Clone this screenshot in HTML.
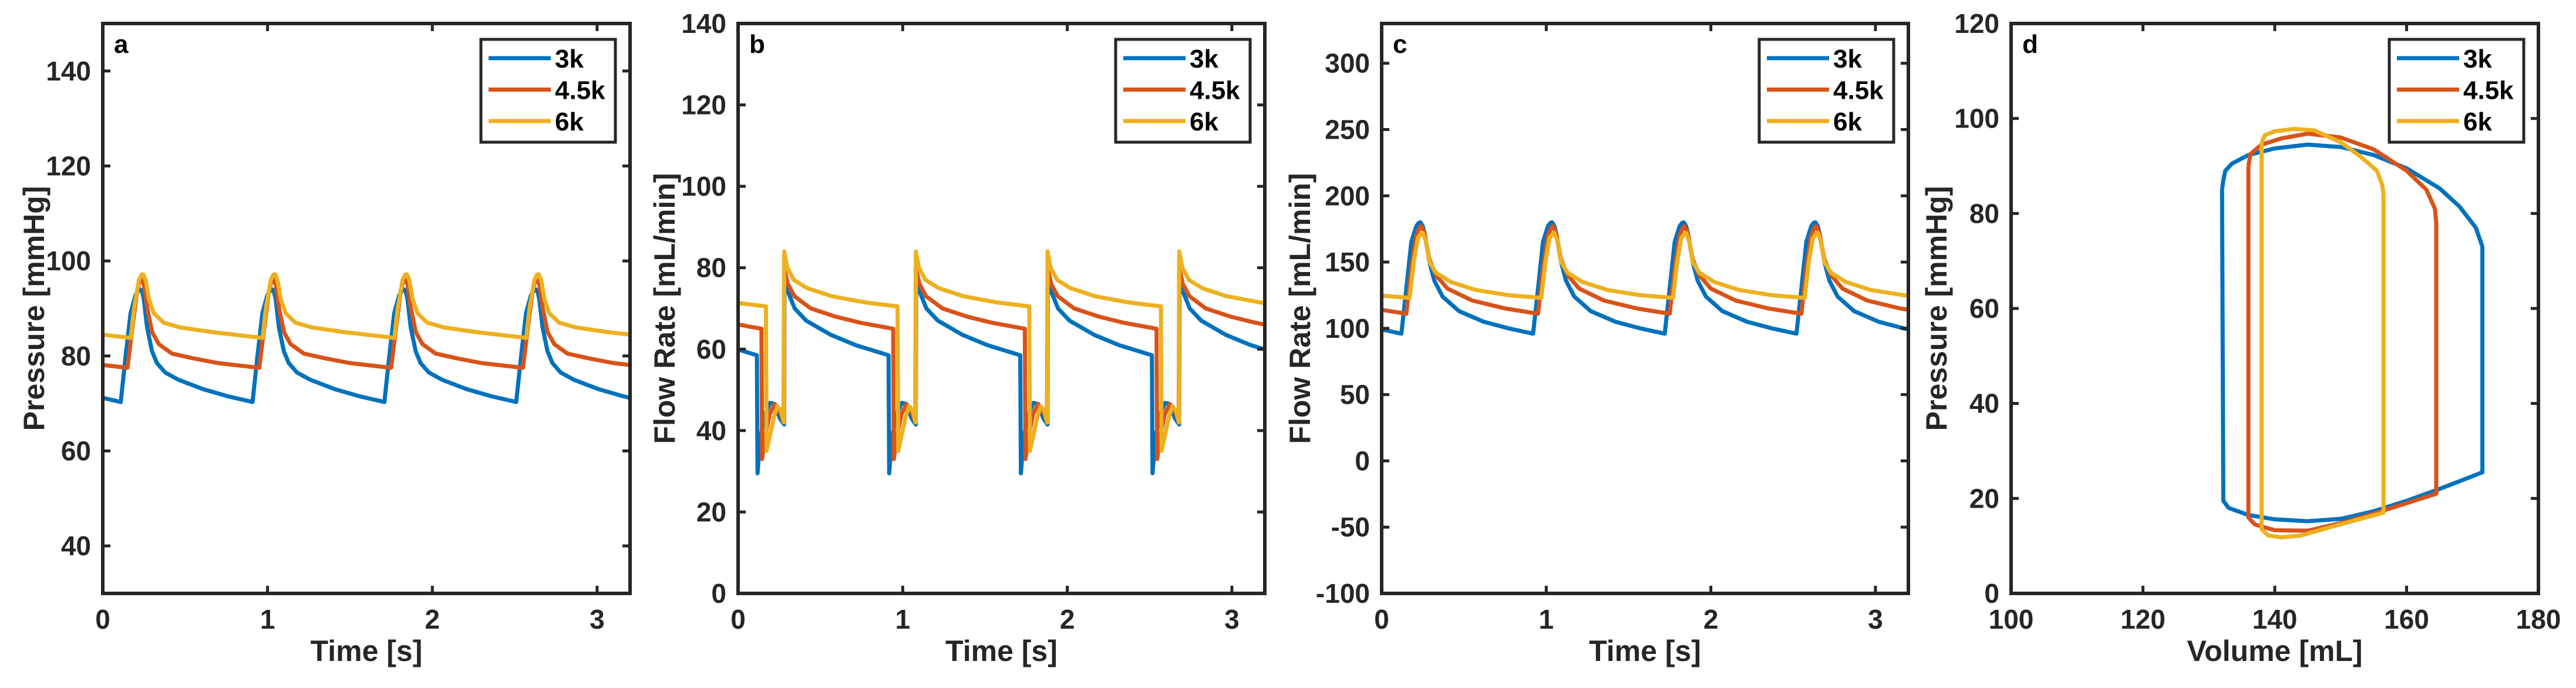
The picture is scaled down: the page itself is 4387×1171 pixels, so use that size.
<!DOCTYPE html>
<html><head><meta charset="utf-8"><style>
html,body{margin:0;padding:0;background:#fff;}
svg{display:block;font-family:"Liberation Sans",Arial,sans-serif;font-weight:bold;}
</style></head><body>
<svg id="fig" width="4387" height="1171" viewBox="0 0 4387 1171" xmlns="http://www.w3.org/2000/svg"></svg>
<script>
// ---- Shared ----
const seriesNames = ["3k", "4.5k", "6k"];
const seriesColors = ["#0072BD", "#D95319", "#EDB120"];
const period = 0.8;

// ---- Panel a: pressure vs time (one cycle, relative t, values) ----
const aStart = [0.109, 0.15, 0.17];
const aT0 = [0, 0.03, 0.06, 0.09, 0.11, 0.12, 0.13, 0.14, 0.16, 0.19, 0.22, 0.27, 0.35, 0.5, 0.65, 0.8];
const aV0 = [70.3, 80, 89, 92.8, 93.9, 94, 93.5, 92, 86, 81, 78.5, 76.5, 75, 73, 71.5, 70.3];
const aT1 = [0, 0.03, 0.06, 0.075, 0.09, 0.1, 0.12, 0.15, 0.19, 0.27, 0.4, 0.55, 0.8];
const aV1 = [77.5, 86, 94, 95.8, 96, 95, 90, 85, 82.5, 80.5, 79.5, 78.5, 77.5];
const aT2 = [0, 0.02, 0.05, 0.065, 0.075, 0.09, 0.11, 0.14, 0.2, 0.3, 0.5, 0.8];
const aV2 = [83.8, 90, 96, 97.1, 97.2, 96, 92, 89, 87, 86, 85, 83.8];
const aYTicks = [40, 60, 80, 100, 120, 140];

// ---- Panel b: flow rate vs time ----
const bStart = [0.114, 0.142, 0.169];
const bT0 = [0, 0.004, 0.02, 0.05, 0.08, 0.11, 0.14, 0.166, 0.168, 0.19, 0.23, 0.3, 0.45, 0.6, 0.8];
const bV0 = [58.5, 29.5, 38, 44, 46.8, 46.5, 43, 41.5, 78, 74, 70, 67, 63.5, 61, 58.5];
const bT1 = [0, 0.004, 0.02, 0.05, 0.08, 0.11, 0.135, 0.138, 0.16, 0.2, 0.3, 0.45, 0.6, 0.8];
const bV1 = [65, 33, 38, 44, 46.5, 45, 42, 80, 76, 73, 70, 68, 66.5, 65];
const bT2 = [0, 0.004, 0.02, 0.05, 0.07, 0.09, 0.11, 0.111, 0.13, 0.17, 0.25, 0.4, 0.6, 0.8];
const bV2 = [70.5, 35, 38, 43.5, 46, 45, 42, 84, 80, 77, 75, 73, 71.5, 70.5];
const bYTicks = [0, 20, 40, 60, 80, 100, 120, 140];

// ---- Panel c: flow rate vs time ----
const cStart = [0.12, 0.15, 0.17];
const cT0 = [0, 0.03, 0.06, 0.09, 0.105, 0.115, 0.13, 0.14, 0.17, 0.2, 0.25, 0.35, 0.5, 0.65, 0.8];
const cV0 = [96, 130, 165, 177, 179.5, 180, 177, 172, 150, 136, 124, 113, 105, 100, 96];
const cT1 = [0, 0.03, 0.06, 0.08, 0.09, 0.11, 0.14, 0.18, 0.25, 0.4, 0.6, 0.8];
const cV1 = [111, 145, 170, 176, 177, 172, 152, 140, 130, 121, 115, 111];
const cT2 = [0, 0.025, 0.05, 0.07, 0.08, 0.1, 0.12, 0.16, 0.25, 0.4, 0.6, 0.8];
const cV2 = [123, 150, 168, 171.5, 172, 165, 150, 142, 135, 129, 125, 123];
const cYTicks = [-100, -50, 0, 50, 100, 150, 200, 250, 300];

// ---- Panel d: PV loops ----
const dVol0 = [132, 132.2, 132.5, 133.5, 136, 140, 145, 150, 155, 160, 165, 168, 170.5, 171.5, 171.5, 165, 160, 155, 150, 145, 140, 136, 133, 132.2, 132];
const dP0 = [85, 87, 89, 90.5, 92.3, 93.7, 94.5, 94, 92.3, 89.5, 85.3, 81.5, 77, 73, 25.5, 22, 19.5, 17.3, 15.7, 15.2, 15.6, 16.5, 18, 19.5, 85];
const dVol1 = [136, 136.3, 138, 141, 145, 150, 155, 160, 163, 164.3, 164.5, 164.5, 160, 155, 150, 145, 140, 137, 136, 136];
const dP1 = [90, 92.5, 94.5, 95.8, 96.8, 96, 93.5, 89, 85, 81, 78, 21, 19, 16.8, 14.8, 13.2, 13.3, 14.5, 16, 90];
const dVol2 = [138, 138.5, 140, 143, 146, 150, 153, 155.5, 156.3, 156.5, 156.5, 152, 148, 144, 141, 139, 138, 138];
const dP2 = [95, 96.5, 97.3, 97.8, 97.5, 95, 92, 89, 86, 84, 17, 15.3, 13.8, 12.2, 11.8, 12.2, 13.5, 95];
const dXTicks = [100, 120, 140, 160, 180];
const dYTicks = [0, 20, 40, 60, 80, 100, 120];

const timeXTicks = [0, 1, 2, 3];

const NS = "http://www.w3.org/2000/svg";
const fig = document.getElementById("fig");
function mk(tag, attrs, parent) {
  const e = document.createElementNS(NS, tag);
  for (const k in attrs) e.setAttribute(k, attrs[k]);
  (parent || fig).appendChild(e);
  return e;
}
const TOP = 40, BOT = 1010;
const INK = "#262626";

function panel(id, letter, left, right, xmin, xmax, ymin, ymax, xticks, yticks, xlabel, ylabel, ylabelX) {
  const g = mk("g", {});
  
  
  const sx = v => left + (v - xmin) / (xmax - xmin) * (right - left);
  const sy = v => BOT - (v - ymin) / (ymax - ymin) * (BOT - TOP);
  const clipId = "clip" + id;
  const cp = mk("clipPath", {id: clipId}, g);
  mk("rect", {x: left, y: TOP, width: right - left, height: BOT - TOP}, cp);
  const plot = mk("g", {"clip-path": "url(#" + clipId + ")"}, g);
  
  
  const tg = mk("g", {stroke: INK, "stroke-width": 5}, g);
  xticks.forEach(t => {
    const x = sx(t);
    mk("line", {x1: x, y1: BOT, x2: x, y2: BOT - 13}, tg);
    mk("line", {x1: x, y1: TOP, x2: x, y2: TOP + 13}, tg);
    const tx = mk("text", {x: x, y: 1070, "text-anchor": "middle", "font-size": 46, fill: INK}, g);
    tx.textContent = t;
    
    
  });
  yticks.forEach(t => {
    const y = sy(t);
    mk("line", {x1: left, y1: y, x2: left + 13, y2: y}, tg);
    mk("line", {x1: right, y1: y, x2: right - 13, y2: y}, tg);
    const tx = mk("text", {x: left - 20, y: y + 16, "text-anchor": "end", "font-size": 46, fill: INK}, g);
    tx.textContent = t;
    
    
  });
  const xl = mk("text", {x: (left + right) / 2, y: 1125, "text-anchor": "middle", "font-size": 50, fill: INK}, g);
  xl.textContent = xlabel;
  
  
  const yc = (TOP + BOT) / 2;
  const yl = mk("text", {x: ylabelX, y: yc, "text-anchor": "middle", "font-size": 50, fill: INK, transform: "rotate(-90 " + ylabelX + " " + yc + ")", dy: 17}, g);
  yl.textContent = ylabel;
  
  
  const pl = mk("text", {x: left + 19, y: 90, "font-size": 44, fill: "#000"}, g);
  pl.textContent = letter;
  
  
  return {g, plot, sx, sy, left, right};
}
function finish(p) {
  const box = mk("rect", {x: p.left, y: TOP, width: p.right - p.left, height: BOT - TOP, fill: "none", stroke: INK, "stroke-width": 6}, p.g);
  
  
  const lg = mk("g", {}, p.g);
  
  
  const bx = p.right - 254, by = 67;
  mk("rect", {x: bx, y: by, width: 229, height: 175, fill: "#fff", stroke: INK, "stroke-width": 5}, lg);
  seriesNames.forEach((n, i) => {
    const y = 99 + i * 53.5;
    const en = mk("g", {}, lg);
    
    
    mk("line", {x1: bx + 13, y1: y, x2: bx + 119, y2: y, stroke: seriesColors[i], "stroke-width": 7}, en);
    const t = mk("text", {x: bx + 126, y: y + 16, "font-size": 44, fill: "#000"}, en);
    t.textContent = n;
  });
}
function timeSeries(p, starts, Ts, Vs) {
  Ts.forEach((T, i) => {
    let pts = [];
    for (let k = -1; k <= 4; k++) {
      const off = starts[i] + k * period;
      T.forEach((t, j) => pts.push(p.sx(off + t).toFixed(1) + "," + p.sy(Vs[i][j]).toFixed(1)));
    }
    const l = mk("polyline", {points: pts.join(" "), fill: "none", stroke: seriesColors[i], "stroke-width": 7, "stroke-linejoin": "round"}, p.plot);
    
    
  });
}

const pa = panel("a", "a", 175, 1073, 0, 3.2, 30, 150, timeXTicks, aYTicks, "Time [s]", "Pressure [mmHg]", 58);
timeSeries(pa, aStart, [aT0, aT1, aT2], [aV0, aV1, aV2]);
finish(pa);

const pb = panel("b", "b", 1257, 2154, 0, 3.2, 0, 140, timeXTicks, bYTicks, "Time [s]", "Flow Rate [mL/min]", 1132);
timeSeries(pb, bStart, [bT0, bT1, bT2], [bV0, bV1, bV2]);
finish(pb);

const pc = panel("c", "c", 2353, 3250, 0, 3.2, -100, 330, timeXTicks, cYTicks, "Time [s]", "Flow Rate [mL/min]", 2214);
timeSeries(pc, cStart, [cT0, cT1, cT2], [cV0, cV1, cV2]);
finish(pc);

const pd = panel("d", "d", 3425, 4323, 100, 180, 0, 120, dXTicks, dYTicks, "Volume [mL]", "Pressure [mmHg]", 3298);
[[dVol0, dP0], [dVol1, dP1], [dVol2, dP2]].forEach((s, i) => {
  const pts = s[0].map((v, j) => pd.sx(v).toFixed(1) + "," + pd.sy(s[1][j]).toFixed(1)).join(" ");
  const l = mk("polyline", {points: pts, fill: "none", stroke: seriesColors[i], "stroke-width": 7, "stroke-linejoin": "round"}, pd.plot);
  
  
});
finish(pd);
</script>
</body></html>
